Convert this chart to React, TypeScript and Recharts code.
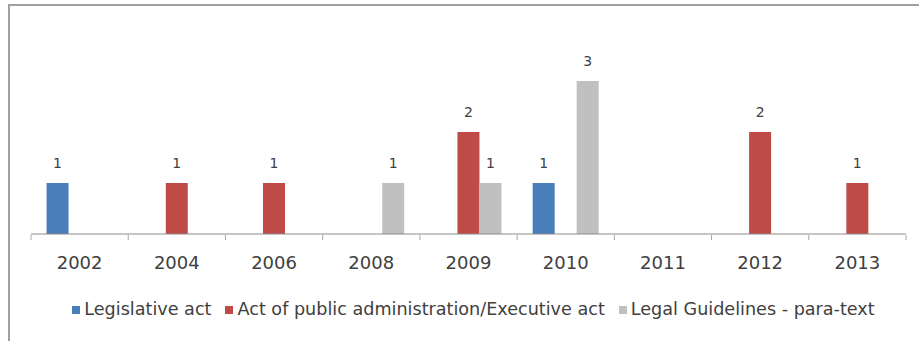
import React from 'react';
import { BarChart, Bar, XAxis, YAxis, Legend, LabelList } from 'recharts';

const years = ['2002', '2004', '2006', '2008', '2009', '2010', '2011', '2012', '2013'];
const legislative = [1, null, null, null, null, 1, null, null, null];
const executive = [null, 1, 1, null, 2, null, null, 2, 1];
const guidelines = [null, null, null, 1, 1, 3, null, null, null];

const seriesNames = [
  'Legislative act',
  'Act of public administration/Executive act',
  'Legal Guidelines - para-text',
];

const data = years.map((y, i) => ({
  year: y,
  leg: legislative[i],
  exe: executive[i],
  gui: guidelines[i],
}));

const FONT = 'DejaVu Sans, sans-serif';

const Tick = (props: any) => {
  const { x, y, payload, index } = props;
  const off = payload && payload.offset ? payload.offset : 48.6;
  const last = index === years.length - 1;
  return (
    <g>
      <line x1={x - off} y1={y - 7} x2={x - off} y2={y - 2} stroke="#a6a6a6" strokeWidth={1} />
      {last && <line x1={x + off} y1={y - 7} x2={x + off} y2={y - 2} stroke="#a6a6a6" strokeWidth={1} />}
      <text x={x} y={y + 27} textAnchor="middle" fontSize={18} fontFamily={FONT} fill="#404040">
        {payload.value}
      </text>
    </g>
  );
};

const fmt = (v: any) => (v == null ? '' : v);
const order = (item: any) => seriesNames.indexOf(item && item.value);

export default function App() {
  return (
    <div style={{ position: 'absolute', left: 0, top: 0, width: 919, height: 341, background: '#fff' }}>
      <div
        style={{
          position: 'absolute',
          left: 8,
          top: 4,
          width: 911,
          height: 337,
          borderTop: '2px solid #a0a0a0',
          borderLeft: '2px solid #a0a0a0',
          boxSizing: 'border-box',
        }}
      />
      <div style={{ position: 'absolute', left: 0, top: 0 }}>
        <BarChart
          width={919}
          height={341}
          data={data}
          margin={{ top: 30, right: 13, left: 31, bottom: 22 }}
          barCategoryGap="16%"
          barGap={0}
        >
          <XAxis
            dataKey="year"
            height={65}
            axisLine={{ stroke: '#8c8c8c', strokeWidth: 1 }}
            tickLine={false}
            tick={<Tick />}
            interval={0}
          />
          <YAxis hide domain={[0, 4]} />
          <Legend
            verticalAlign="bottom"
            iconType="square"
            iconSize={8}
            itemSorter={order}
            wrapperStyle={{ fontFamily: FONT, fontSize: 17.6, color: '#404040', left: 43 }}
            formatter={(value: any) => <span style={{ color: '#404040', marginRight: 4 }}>{value}</span>}
          />
          <Bar dataKey="leg" name={seriesNames[0]} fill="#4a7ebb" isAnimationActive={false}>
            <LabelList dataKey="leg" position="top" offset={15} formatter={fmt} fontSize={14} fontFamily={FONT} fill="#404040" />
          </Bar>
          <Bar dataKey="exe" name={seriesNames[1]} fill="#be4b48" isAnimationActive={false}>
            <LabelList dataKey="exe" position="top" offset={15} formatter={fmt} fontSize={14} fontFamily={FONT} fill="#404040" />
          </Bar>
          <Bar dataKey="gui" name={seriesNames[2]} fill="#c0c0c0" isAnimationActive={false}>
            <LabelList dataKey="gui" position="top" offset={15} formatter={fmt} fontSize={14} fontFamily={FONT} fill="#404040" />
          </Bar>
        </BarChart>
      </div>
    </div>
  );
}
